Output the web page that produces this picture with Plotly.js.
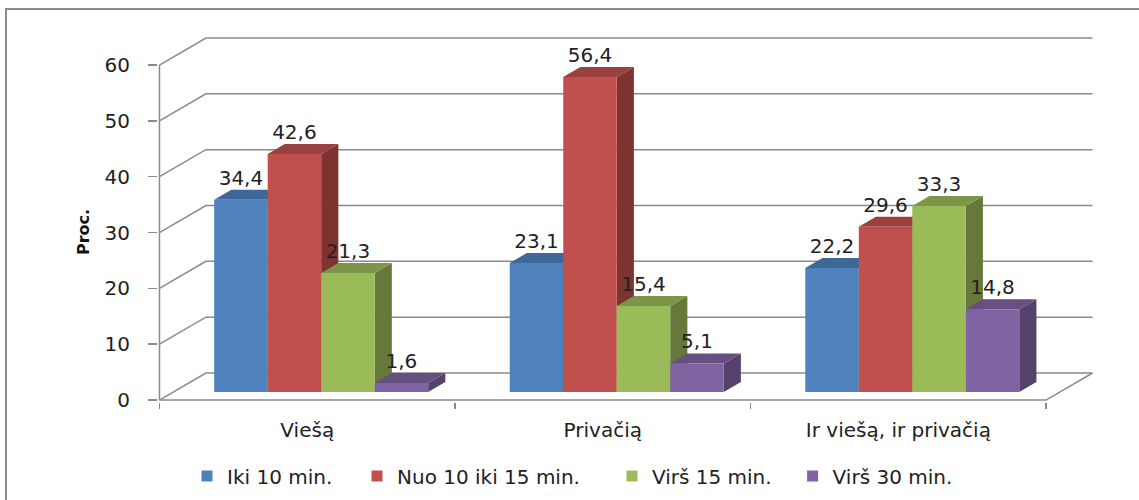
<!DOCTYPE html>
<html>
<head>
<meta charset="utf-8">
<script src="https://cdn.plot.ly/plotly-3.0.1.min.js"></script>
<style>
  html, body { margin: 0; padding: 0; background: #ffffff; }
  #wrap { position: relative; width: 1139px; height: 500px; overflow: hidden; }
  #chart { position: absolute; left: 0; top: 0; width: 1139px; height: 500px; }
  #frame { position: absolute; left: 5px; top: 8px; right: -4px; bottom: -4px;
           border-left: 2px solid #8c8c8c; border-top: 2px solid #8c8c8c; pointer-events: none; }
</style>
</head>
<body>
<div id="wrap">
  <div id="chart"></div>
  <div id="frame"></div>
</div>
<script>
// Categories and series values (percent)
const categories = ['Viešą', 'Privačią', 'Ir viešą, ir privačią'];
const seriesNames = ['Iki 10 min.', 'Nuo 10 iki 15 min.', 'Virš 15 min.', 'Virš 30 min.'];
const iki10 = [34.4, 23.1, 22.2];
const nuo10iki15 = [42.6, 56.4, 29.6];
const virs15 = [21.3, 15.4, 33.3];
const virs30 = [1.6, 5.1, 14.8];
const yTicks = [0, 10, 20, 30, 40, 50, 60];
const yTitle = 'Proc.';

const seriesValues = [iki10, nuo10iki15, virs15, virs30];

// Face colours per series: front, top, side
const faceColors = [
  { front: '#4F81BD', top: '#3F6797', side: '#355787' },
  { front: '#C0504D', top: '#9A403E', side: '#7E3331' },
  { front: '#9BBB59', top: '#7C9647', side: '#66793A' },
  { front: '#8064A2', top: '#665082', side: '#54426A' }
];

// Pseudo-3D geometry (in axis units)
const BAR_W = 0.181;      // width of one bar along the category axis
const DEPTH_X = 0.157;    // full depth offset along x
const DEPTH_Y = 4.84;     // full depth offset along y (value units)
const Z_FRONT = 0.30;     // bar front plane depth fraction
const Z_BACK = 0.67;      // bar back plane depth fraction
const yMax = yTicks[yTicks.length - 1];
const nCat = categories.length;
const xLeft = -0.5, xRight = nCat - 0.5;

const GRID = '#8a8a8a';
const FONT = 'DejaVu Sans, sans-serif';
const FS = 20;
const traces = [];

// Back wall gridlines, left wall diagonals, floor and value axis line
const gx = [], gy = [];
yTicks.forEach(t => {
  gx.push(xLeft, xLeft + DEPTH_X, xRight + DEPTH_X, null);
  gy.push(t, t + DEPTH_Y, t + DEPTH_Y, null);
});
gx.push(xLeft, xRight, xRight + DEPTH_X, null);
gy.push(0, 0, DEPTH_Y, null);
gx.push(xLeft, xLeft, null);
gy.push(0, yMax, null);
traces.push({
  type: 'scatter', mode: 'lines', x: gx, y: gy,
  line: { color: GRID, width: 1.5 }, hoverinfo: 'skip', showlegend: false
});

// Bars: side, top, front faces drawn left to right so nearer faces overlap
const ddx = (Z_BACK - Z_FRONT) * DEPTH_X;
const ddy = (Z_BACK - Z_FRONT) * DEPTH_Y;
const y0 = Z_FRONT * DEPTH_Y;
const labelX = [], labelY = [], labelText = [];

seriesValues.forEach((vals, s) => {
  const fx = [], fy = [], tx = [], ty = [], sx = [], sy = [];
  vals.forEach((v, c) => {
    const xl = c - 2 * BAR_W + s * BAR_W + Z_FRONT * DEPTH_X;
    const xr = xl + BAR_W;
    const y1 = y0 + v;
    fx.push(xl, xr, xr, xl, xl, null);
    fy.push(y0, y0, y1, y1, y0, null);
    tx.push(xl, xr, xr + ddx, xl + ddx, xl, null);
    ty.push(y1, y1, y1 + ddy, y1 + ddy, y1, null);
    sx.push(xr, xr + ddx, xr + ddx, xr, xr, null);
    sy.push(y0, y0 + ddy, y1 + ddy, y1, y0, null);
    labelX.push(xl + BAR_W / 2);
    labelY.push(y1 + ddy);
    labelText.push(v.toFixed(1).replace('.', ','));
  });
  const col = faceColors[s];
  const face = (x, y, color) => ({
    type: 'scatter', mode: 'lines', x, y, fill: 'toself', fillcolor: color,
    line: { width: 0, color: color }, hoverinfo: 'skip', showlegend: false
  });
  traces.push(face(sx, sy, col.side));
  traces.push(face(tx, ty, col.top));
  traces.push(face(fx, fy, col.front));
});

// Value labels above each bar
traces.push({
  type: 'scatter', mode: 'text', x: labelX, y: labelY, text: labelText,
  textposition: 'top center', cliponaxis: false,
  textfont: { family: FONT, size: FS, color: '#222222' },
  hoverinfo: 'skip', showlegend: false
});

// Legend entries, one small legend per series laid out in a row
const legendIds = ['legend', 'legend2', 'legend3', 'legend4'];
const legendX = [0.031, 0.2126, 0.485, 0.678];
seriesNames.forEach((name, s) => {
  traces.push({
    type: 'scatter', mode: 'markers', x: [null], y: [null], name,
    legend: legendIds[s],
    marker: { symbol: 'square', size: 11, color: faceColors[s].front }
  });
});

const layout = {
  width: 1139, height: 500,
  margin: { l: 158, r: 45, t: 36, b: 98, pad: 0, autoexpand: false },
  paper_bgcolor: '#ffffff', plot_bgcolor: '#ffffff',
  showlegend: true,
  font: { family: FONT, size: FS, color: '#222222' },
  xaxis: {
    range: [xLeft - 0.005, xRight + DEPTH_X + 0.005],
    tickmode: 'array', tickvals: categories.map((_, i) => i), ticktext: categories,
    ticks: '', showgrid: false, zeroline: false, showline: false,
    ticklabelstandoff: 14,
    tickfont: { family: FONT, size: FS, color: '#222222' },
    minor: {
      tickmode: 'array', tickvals: categories.map((_, i) => i - 0.5).concat([xRight]),
      ticks: 'outside', ticklen: 6, tickwidth: 1.5, tickcolor: GRID, showgrid: false
    },
    fixedrange: true
  },
  yaxis: {
    range: [-0.35, 65.2],
    tickmode: 'array', tickvals: yTicks, ticktext: yTicks.map(String),
    ticks: 'outside', ticklen: 9, tickwidth: 1.5, tickcolor: GRID,
    ticklabelstandoff: 14,
    showgrid: false, zeroline: false, showline: false,
    tickfont: { family: FONT, size: FS, color: '#222222' },
    fixedrange: true
  },
  annotations: [{
    text: '<b>' + yTitle + '</b>', textangle: -90,
    xref: 'paper', x: -0.079, xanchor: 'center',
    yref: 'y', y: 30.1, yanchor: 'middle',
    showarrow: false, font: { family: FONT, size: 16, color: '#111111' }
  }]
};

legendIds.forEach((id, s) => {
  layout[id] = {
    orientation: 'h', x: legendX[s], xanchor: 'left', y: -0.202, yanchor: 'middle',
    font: { family: FONT, size: FS, color: '#222222' },
    itemwidth: 30, bgcolor: 'rgba(0,0,0,0)'
  };
});

Plotly.newPlot('chart', traces, layout, { staticPlot: true, displayModeBar: false });
</script>
</body>
</html>
